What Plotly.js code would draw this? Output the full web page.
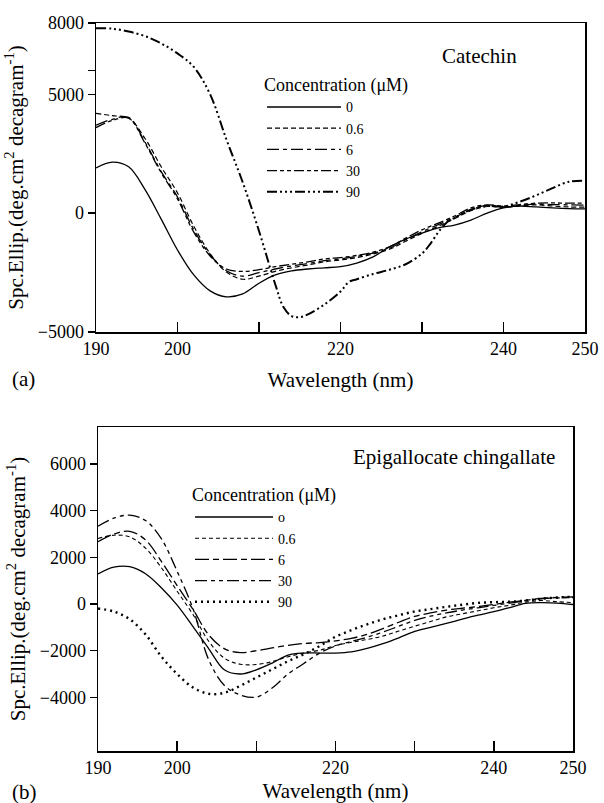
<!DOCTYPE html>
<html>
<head>
<meta charset="utf-8">
<script src="https://cdn.plot.ly/plotly-3.0.1.min.js"></script>
<style>html,body{margin:0;padding:0;background:#fff;}#chart{width:604px;height:803px;}</style>
</head>
<body>
<div id="chart"></div>
<script>
// ---- Data ----
const wavelength = [190,192,194,196,198,200,202,204,206,208,210,212,214,216,218,220,222,224,226,228,230,232,234,236,238,240,242,244,246,248,250];
const seriesNames = ["0","0.6","6","30","90"];
const seriesNamesB = ["o","0.6","6","30","90"];

// (a) Catechin
const catechin0   = [1900,2150,1950,1000,-250,-1550,-2600,-3270,-3520,-3400,-2950,-2600,-2430,-2350,-2300,-2250,-2100,-1840,-1420,-1090,-840,-620,-500,-290,0,220,300,260,220,190,180];
const catechin06  = [4200,4100,4000,3150,1950,850,-550,-1700,-2480,-2780,-2650,-2450,-2300,-2180,-2050,-1970,-1870,-1720,-1520,-1180,-850,-550,-230,100,280,250,300,350,300,260,250];
const catechin6   = [3700,3950,4030,3000,1750,680,-700,-1750,-2420,-2650,-2500,-2350,-2220,-2120,-2000,-1920,-1820,-1680,-1480,-1120,-780,-480,-180,150,330,260,330,380,360,350,340];
const catechin30  = [3600,3900,4000,2950,1700,600,-800,-1800,-2350,-2450,-2380,-2250,-2150,-2050,-1930,-1870,-1780,-1640,-1420,-1050,-700,-420,-120,220,350,300,360,420,430,420,420];
const wavelength90 = [190,192,194,196,198,200,202,204,206,208,210,212,213,214,215,216,218,220,221,222,224,226,228,230,231,232,233,234,236,238,240,242,244,246,248,250];
const catechin90  = [7780,7760,7640,7450,7140,6720,6150,5000,3100,1300,-750,-3000,-3950,-4330,-4380,-4260,-3850,-3300,-2900,-2780,-2560,-2380,-2150,-1700,-1300,-800,-400,-200,150,300,280,480,750,1050,1320,1360];

// (b) Epigallocatechin gallate
const egcg0  = [1290,1580,1600,1300,700,-50,-970,-1920,-2830,-3000,-2820,-2530,-2190,-2100,-2100,-2100,-2050,-1900,-1700,-1450,-1170,-1000,-830,-650,-480,-330,-150,30,60,40,-20];
const egcg06 = [2810,2950,2880,2400,1560,550,-450,-1600,-2330,-2580,-2590,-2470,-2260,-2100,-1980,-1780,-1640,-1520,-1370,-1160,-950,-750,-550,-420,-290,-160,-50,80,150,100,60];
const egcg6  = [2670,3000,3120,2750,1830,790,-230,-1330,-1920,-2080,-2000,-1880,-1770,-1690,-1650,-1580,-1470,-1300,-1050,-780,-530,-380,-260,-180,-110,-20,80,160,240,280,310];
const egcg30 = [3340,3680,3810,3580,2800,1400,-200,-2400,-3500,-3900,-3990,-3600,-3000,-2550,-2100,-1800,-1600,-1420,-1200,-950,-700,-520,-380,-260,-160,-60,40,140,220,260,280];
const egcg90 = [-190,-320,-650,-1300,-2250,-3000,-3580,-3850,-3800,-3500,-3150,-2800,-2450,-2150,-1800,-1400,-1120,-870,-650,-480,-320,-220,-120,-30,50,80,100,150,230,280,310];

const xTickVals = [190,200,220,240,250];
const xMinorVals = [210,230];
const yTopTicks = [-5000,0,5000,8000];
const yTopMinor = [6000];
const yBotTicks = [-4000,-2000,0,2000,4000,6000];

// ---- Styles ----
const dashTop = ["solid","5px,3px","12px,4px,4px,4px","10px,3px,4px,3px,4px,3px","10px,3px,2px,3px,2px,3px,2px,3px"];
const widthTop = [1.3,1.2,1.3,1.3,2];
const dashBot = ["solid","4px,3px","14px,4px,6px,4px","12px,4px,4px,4px,4px,4px","2px,4px"];
const widthBot = [1.3,1.1,1.3,1.3,2.4];

const topX = [wavelength,wavelength,wavelength,wavelength,wavelength90];
const topY = [catechin0,catechin06,catechin6,catechin30,catechin90];
const botY = [egcg0,egcg06,egcg6,egcg30,egcg90];

const traces = [];
for (let i = 0; i < 5; i++) {
  traces.push({x: topX[i], y: topY[i], name: seriesNames[i], type:'scatter', mode:'lines',
    xaxis:'x', yaxis:'y', legend:'legend',
    line:{color:'#000', width: widthTop[i], dash: dashTop[i], shape:'spline', smoothing:1}});
}
for (let i = 0; i < 5; i++) {
  traces.push({x: wavelength, y: botY[i], name: seriesNamesB[i], type:'scatter', mode:'lines',
    xaxis:'x2', yaxis:'y2', legend:'legend2',
    line:{color:'#000', width: widthBot[i], dash: dashBot[i], shape:'spline', smoothing:1}});
}

const W = 604, H = 803;
const FONT = 'Liberation Serif';
const axisCommon = {showline:true, linecolor:'#000', linewidth:1.5, mirror:true, showgrid:false, zeroline:false,
  tickcolor:'#000', tickwidth:1.5, tickfont:{size:18, family:FONT}};
const xCommon = Object.assign({}, axisCommon, {range:[190,250], tickmode:'array', tickvals:xTickVals,
  ticks:'inside', ticklen:10, minor:{tickmode:'array', tickvals:xMinorVals, ticks:'inside', ticklen:10, tickwidth:1.5, tickcolor:'#000'}});
const yTitle = 'Spc.Ellip.(deg.cm<sup>2</sup> decagram<sup>-1</sup>)';

const layout = {
  width: W, height: H,
  margin:{l:0,r:0,t:0,b:0},
  paper_bgcolor:'#fff', plot_bgcolor:'#fff',
  font:{family:FONT, color:'#000', size:18},
  showlegend:true,
  xaxis: Object.assign({}, xCommon, {domain:[96/W, 585/W], anchor:'y',
    title:{text:'Wavelength (nm)', font:{size:21, family:FONT}, standoff:14}}),
  yaxis: Object.assign({}, axisCommon, {domain:[1-332/H, 1-23/H], anchor:'x', range:[-5000,8000],
    tickmode:'array', tickvals:yTopTicks, ticks:'outside', ticklen:7,
    minor:{tickmode:'array', tickvals:yTopMinor, ticks:'outside', ticklen:7, tickwidth:1.5, tickcolor:'#000'},
    title:{text:yTitle, font:{size:21, family:FONT}, standoff:8}}),
  xaxis2: Object.assign({}, xCommon, {domain:[98/W, 573/W], anchor:'y2',
    title:{text:'Wavelength (nm)', font:{size:21, family:FONT}, standoff:14}}),
  yaxis2: Object.assign({}, axisCommon, {domain:[1-751/H, 1-427/H], anchor:'x2', range:[-6300,7590],
    tickmode:'array', tickvals:yBotTicks, ticks:'outside', ticklen:7,
    title:{text:yTitle, font:{size:21, family:FONT}, standoff:8}}),
  legend:{x:262/W, y:1-68/H, xanchor:'left', yanchor:'top', bgcolor:'rgba(0,0,0,0)', borderwidth:0,
    title:{text:'Concentration (μM)', font:{size:18, family:FONT}, side:'top'}, font:{size:14, family:FONT}, itemwidth:74, tracegroupgap:0},
  legend2:{x:190/W, y:1-478/H, xanchor:'left', yanchor:'top', bgcolor:'rgba(0,0,0,0)', borderwidth:0,
    title:{text:'Concentration (μM)', font:{size:18, family:FONT}, side:'top'}, font:{size:14, family:FONT}, itemwidth:78, tracegroupgap:0},
  annotations:[
    {text:'Catechin', xref:'paper', yref:'paper', x:480/W, y:1-56/H, showarrow:false, font:{size:21, family:FONT}, xanchor:'center', yanchor:'middle'},
    {text:'Epigallocate chingallate', xref:'paper', yref:'paper', x:557/W, y:1-457/H, showarrow:false, font:{size:21, family:FONT}, xanchor:'right', yanchor:'middle'},
    {text:'(a)', xref:'paper', yref:'paper', x:10/W, y:1-379/H, showarrow:false, font:{size:21, family:FONT}, xanchor:'left', yanchor:'middle'},
    {text:'(b)', xref:'paper', yref:'paper', x:10/W, y:1-792/H, showarrow:false, font:{size:21, family:FONT}, xanchor:'left', yanchor:'middle'}
  ]
};

Plotly.newPlot('chart', traces, layout, {staticPlot:true, displayModeBar:false});
</script>
</body>
</html>
